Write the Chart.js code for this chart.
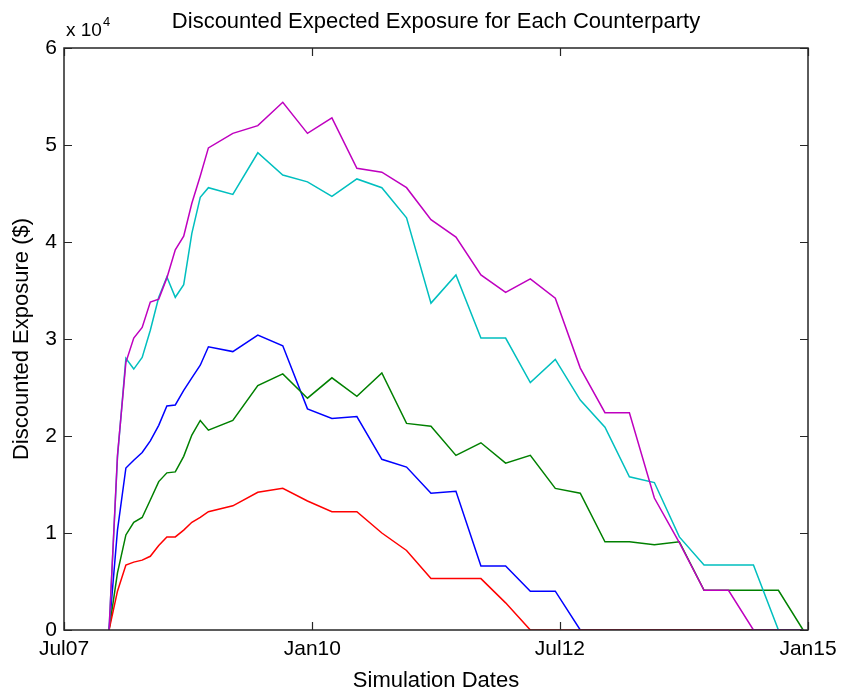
<!DOCTYPE html>
<html>
<head>
<meta charset="utf-8">
<script src="https://cdn.jsdelivr.net/npm/chart.js@4.4.1/dist/chart.umd.min.js"></script>
<style>
  html, body { margin: 0; padding: 0; background: #fff; }
  #wrap { width: 841px; height: 692px; }
</style>
</head>
<body>
<div id="wrap"><canvas id="chartCanvas"></canvas></div>
<script>
// Simulation dates: monthly for the first year, then quarterly
const simDates = [
  '2007-12-14', '2008-01-14', '2008-02-14', '2008-03-14', '2008-04-14', '2008-05-14', '2008-06-14',
  '2008-07-14', '2008-08-14', '2008-09-14', '2008-10-14', '2008-11-14', '2008-12-14',
  '2009-03-14', '2009-06-14', '2009-09-14', '2009-12-14', '2010-03-14', '2010-06-14',
  '2010-09-14', '2010-12-14', '2011-03-14', '2011-06-14', '2011-09-14', '2011-12-14',
  '2012-03-14', '2012-06-14', '2012-09-14', '2012-12-14', '2013-03-14', '2013-06-14',
  '2013-09-14', '2013-12-14', '2014-03-14', '2014-06-14', '2014-09-14', '2014-12-14'
];

// Discounted expected exposure per counterparty ($)
const cp1 = [0, 10300, 16700, 17500, 18300, 19500, 21100, 23100, 23200, 24700, 26000, 27300, 29200,
  28700, 30400, 29300, 22800, 21800, 22000, 17600, 16800, 14100, 14300, 6600, 6600,
  4000, 4000, 0, 0, 0, 0, 0, 0, 0, 0, 0, 0];
const cp2 = [0, 5900, 9800, 11100, 11600, 13400, 15300, 16200, 16300, 17900, 20100, 21600, 20600,
  21600, 25200, 26400, 23900, 26000, 24100, 26500, 21300, 21000, 18000, 19300, 17200,
  18000, 14600, 14100, 9100, 9100, 8800, 9100, 4100, 4100, 4100, 4100, 0];
const cp3 = [0, 4000, 6700, 7000, 7200, 7600, 8700, 9600, 9600, 10300, 11100, 11600, 12200,
  12800, 14200, 14600, 13300, 12200, 12200, 10000, 8200, 5300, 5300, 5300, 2800,
  0, 0, 0, 0, 0, 0, 0, 0, 0, 0, 0, 0];
const cp4 = [0, 17800, 28000, 26900, 28100, 30900, 34300, 36400, 34300, 35600, 40900, 44600, 45600,
  44900, 49200, 46900, 46200, 44700, 46500, 45600, 42500, 33700, 36600, 30100, 30100,
  25500, 27900, 23700, 20900, 15800, 15200, 9600, 6700, 6700, 6700, 0, 0];
const cp5 = [0, 18000, 27600, 30100, 31200, 33800, 34100, 36300, 39200, 40600, 44000, 46800, 49700,
  51200, 52000, 54400, 51200, 52800, 47600, 47200, 45600, 42300, 40500, 36600, 34800,
  36200, 34200, 27000, 22400, 22400, 13600, 9000, 4100, 4100, 0, 0, 0];

const seriesColors = ['#0000ff', '#008000', '#ff0000', '#00bfbf', '#bf00bf'];

// x axis ticks
const xTickDates = ['2007-07-01', '2010-01-01', '2012-07-01', '2015-01-01'];
const xTickLabels = ['Jul07', 'Jan10', 'Jul12', 'Jan15'];

const FONT = "'Liberation Sans', Arial, sans-serif";
const chartTitle = 'Discounted Expected Exposure for Each Counterparty';

//Days since the first x tick, used as the linear x value
function dayNum(s) {
  return (Date.parse(s) - Date.parse(xTickDates[0])) / 86400000;
}

function toPoints(values) {
  return values.map((v, i) => ({ x: dayNum(simDates[i]), y: v }));
}

const xTickValues = xTickDates.map(dayNum);

//Draws the axes box, inward tick marks, title and the exponent label
const boxPlugin = {
  id: 'matlabBox',
  afterDraw(chart) {
    const { ctx, chartArea: a, scales } = chart;
    ctx.save();
    ctx.strokeStyle = '#262626';
    ctx.lineWidth = 1.5;
    ctx.strokeRect(a.left, a.top, a.right - a.left, a.bottom - a.top);
    ctx.lineWidth = 1.2;
    ctx.beginPath();
    scales.y.ticks.forEach(t => {
      const py = Math.round(scales.y.getPixelForValue(t.value)) + 0.5;
      ctx.moveTo(a.left, py); ctx.lineTo(a.left + 8, py);
      ctx.moveTo(a.right, py); ctx.lineTo(a.right - 8, py);
    });
    scales.x.ticks.forEach(t => {
      const px = Math.round(scales.x.getPixelForValue(t.value)) + 0.5;
      ctx.moveTo(px, a.bottom); ctx.lineTo(px, a.bottom - 8);
      ctx.moveTo(px, a.top); ctx.lineTo(px, a.top + 8);
    });
    ctx.stroke();

    ctx.fillStyle = '#000';
    // title centred over the axes
    ctx.font = '22px ' + FONT;
    ctx.textAlign = 'center';
    ctx.textBaseline = 'middle';
    ctx.fillText(chartTitle, (a.left + a.right) / 2, 22);

    // x 10^4 above the y axis
    ctx.textAlign = 'left';
    ctx.textBaseline = 'alphabetic';
    ctx.font = '19px ' + FONT;
    ctx.fillText('x 10', a.left + 2, a.top - 12);
    const w = ctx.measureText('x 10').width;
    ctx.font = '13px ' + FONT;
    ctx.fillText('4', a.left + 3 + w, a.top - 22);
    ctx.restore();
  }
};

const ctx = document.getElementById('chartCanvas');
const names = ['Counterparty 1', 'Counterparty 2', 'Counterparty 3', 'Counterparty 4', 'Counterparty 5'];
const allSeries = [cp1, cp2, cp3, cp4, cp5];

window.myChart = new Chart(ctx, {
  type: 'line',
  data: {
    datasets: allSeries.map((s, i) => ({
      label: names[i],
      data: toPoints(s),
      borderColor: seriesColors[i],
      backgroundColor: seriesColors[i],
      borderWidth: 1.5,
      pointRadius: 0,
      tension: 0,
      fill: false,
      order: 5 - i
    }))
  },
  options: {
    responsive: true,
    maintainAspectRatio: false,
    animation: false,
    layout: { padding: { left: 0, right: 33, top: 48, bottom: 0 } },
    plugins: {
      legend: { display: false },
      tooltip: { enabled: false },
      title: { display: false }
    },
    scales: {
      x: {
        type: 'linear',
        min: xTickValues[0],
        max: xTickValues[xTickValues.length - 1],
        grid: { display: false, drawTicks: false },
        border: { display: false },
        afterBuildTicks: scale => {
          scale.ticks = xTickValues.map(v => ({ value: v }));
        },
        afterFit: scale => { scale.height = 62; },
        ticks: {
          autoSkip: false,
          maxRotation: 0,
          padding: 3,
          color: '#000',
          font: { family: FONT, size: 21, lineHeight: 1.5 },
          callback: value => xTickLabels[xTickValues.indexOf(value)]
        },
        title: {
          display: true,
          text: 'Simulation Dates',
          color: '#000',
          font: { family: FONT, size: 22, lineHeight: 1 },
          padding: { top: 0, bottom: 0 }
        }
      },
      y: {
        min: 0,
        max: 60000,
        grid: { display: false, drawTicks: false },
        border: { display: false },
        afterFit: scale => { scale.width = 64; },
        ticks: {
          stepSize: 10000,
          padding: 7,
          color: '#000',
          font: { family: FONT, size: 21 },
          callback: value => value / 10000
        },
        title: {
          display: true,
          text: 'Discounted Exposure ($)',
          color: '#000',
          font: { family: FONT, size: 22, lineHeight: 1 },
          padding: { top: 11, bottom: 0 }
        }
      }
    }
  },
  plugins: [boxPlugin]
});
</script>
</body>
</html>
